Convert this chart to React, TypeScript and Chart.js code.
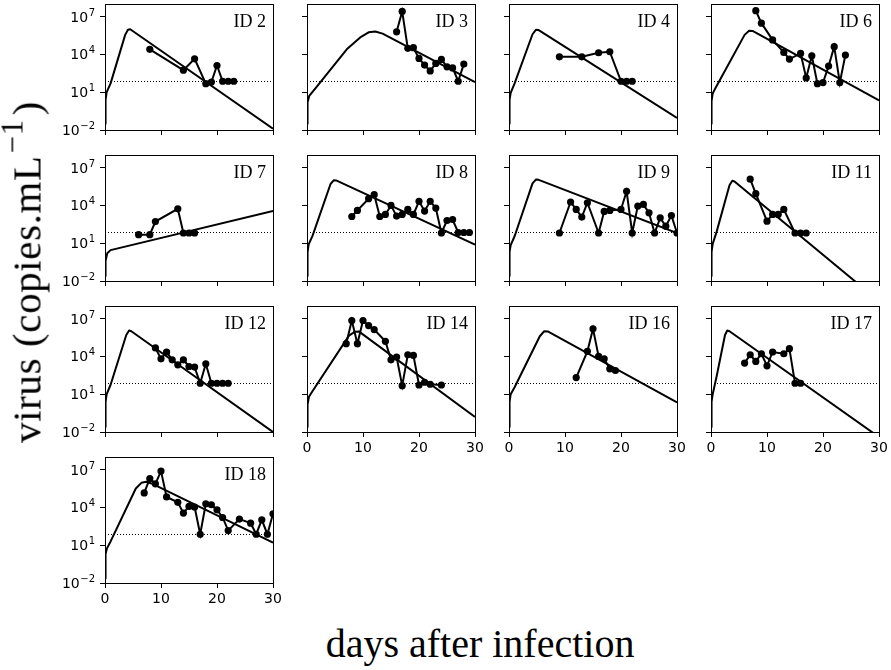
import React, { useEffect, useRef } from 'react';
import { Chart, registerables } from 'chart.js';

Chart.register(...registerables);

// ---- axis settings ----
const X_TICKS = [0, 10, 20, 30];
const Y_TICK_EXPONENTS = [-2, 1, 4, 7];
const Y_MIN_EXP = -2;
const Y_MAX_EXP = 8;
const LOD_LOG10 = 1.85; // dotted detection-limit line (log10 copies/mL)

// ---- observed data (days, log10 copies/mL) and model curves ----
const id2Days = [8, 14, 16, 18, 19, 20, 21, 22, 23];
const id2Log = [4.4, 2.75, 3.65, 1.68, 1.81, 3.12, 1.87, 1.87, 1.87];
const id2ModelDays = [0, 0.1, 0.3, 1, 3.6, 4.1, 4.5, 30];
const id2ModelLog = [-1.5, 0.4, 1.0, 1.7, 5.55, 5.95, 6.0, -1.9];

const id3Days = [16, 17, 18, 19, 20, 21, 22, 23, 24, 25, 26, 27, 28];
const id3Log = [5.79, 7.41, 4.48, 4.53, 3.68, 3.15, 2.69, 3.28, 3.6, 3.01, 2.93, 1.87, 3.23];
const id3ModelDays = [0, 0.1, 0.4, 1.5, 7.1, 9.5, 11, 12.2, 13.5, 30];
const id3ModelLog = [-1.5, 0.2, 0.7, 1.3, 4.4, 5.35, 5.75, 5.82, 5.65, 1.8];

const id4Days = [9, 13, 16, 18, 20, 21, 22];
const id4Log = [3.81, 3.81, 4.13, 4.21, 1.87, 1.87, 1.87];
const id4ModelDays = [0, 0.1, 0.3, 1, 4.2, 4.8, 5.3, 30];
const id4ModelLog = [-1.5, 0.4, 0.95, 1.7, 5.6, 5.95, 5.93, -1.05];

const id6Days = [8, 9, 11, 13, 14, 16, 17, 18, 19, 20, 21, 22, 23, 24];
const id6Log = [7.47, 6.48, 5.15, 4.16, 3.63, 4.08, 2.13, 3.89, 1.68, 1.76, 3.07, 4.61, 1.76, 3.95];
const id6ModelDays = [0, 0.1, 0.3, 1, 6, 6.8, 7.5, 30];
const id6ModelLog = [-1.5, 0.3, 0.9, 1.5, 5.55, 5.88, 5.85, 0.35];

const id7Days = [6, 8, 9, 13, 14, 15, 16];
const id7Log = [1.68, 1.68, 2.72, 3.73, 1.81, 1.81, 1.81];
const id7ModelDays = [0, 0.1, 0.4, 1, 30];
const id7ModelLog = [-1.6, -0.4, 0.2, 0.45, 3.55];

const id8Days = [8, 9, 11, 12, 13, 14, 15, 16, 17, 18, 19, 20, 21, 22, 23, 24, 25, 26, 27, 28, 29];
const id8Log = [3.12, 3.6, 4.53, 4.85, 3.12, 3.28, 4.0, 3.15, 3.28, 3.68, 3.28, 4.32, 3.55, 4.32, 3.79, 1.81, 2.8, 2.88, 1.85, 1.85, 1.85];
const id8ModelDays = [0, 0.1, 0.3, 1, 4.2, 4.8, 5.2, 30];
const id8ModelLog = [-1.6, 0.3, 0.9, 1.6, 5.7, 6.0, 5.98, 0.88];

const id9Days = [9, 11, 12, 13, 14, 16, 17, 18, 20, 21, 22, 23, 24, 25, 26, 27, 28, 29, 30];
const id9Log = [1.81, 4.27, 3.68, 3.07, 4.21, 1.81, 3.52, 3.6, 3.68, 5.12, 1.81, 3.95, 4.08, 3.41, 1.81, 3.01, 2.35, 3.2, 1.81];
const id9ModelDays = [0, 0.1, 0.3, 1, 4.2, 4.8, 5.3, 30];
const id9ModelLog = [-1.6, 0.3, 0.85, 1.55, 5.75, 6.05, 6.03, 1.8];

const id11Days = [7, 8, 10, 11, 12, 13, 15, 16, 17];
const id11Log = [6.08, 4.93, 2.75, 3.28, 3.28, 3.68, 1.81, 1.81, 1.81];
const id11ModelDays = [0, 0.1, 0.3, 1, 3.3, 3.8, 4.2, 30];
const id11ModelLog = [-1.6, 0.3, 0.95, 1.9, 5.6, 5.95, 5.9, -3.6];

const id12Days = [9, 10, 11, 12, 13, 14, 15, 16, 17, 18, 19, 20, 21, 22];
const id12Log = [4.67, 3.81, 4.35, 3.73, 3.33, 3.73, 3.2, 3.15, 1.87, 3.41, 1.87, 1.87, 1.87, 1.87];
const id12ModelDays = [0, 0.1, 0.3, 1, 3.8, 4.3, 4.7, 30];
const id12ModelLog = [-1.6, 0.4, 1.0, 1.75, 5.7, 6.05, 6.0, -2];

const id14Days = [7, 8, 9, 10, 11, 12, 14, 15, 16, 17, 18, 19, 20, 21, 22, 24];
const id14Log = [5.01, 6.85, 5.01, 6.85, 6.45, 6.13, 5.2, 3.73, 3.95, 1.68, 4.13, 4.08, 1.73, 1.95, 1.79, 1.73];
const id14ModelDays = [0, 0.1, 0.35, 1, 7.5, 8.5, 9.3, 30];
const id14ModelLog = [-1.6, 0.2, 0.8, 1.25, 5.65, 5.95, 5.97, -0.8];

const id16Days = [12, 14, 15, 16, 17, 18, 19];
const id16Log = [2.32, 4.4, 6.19, 4.0, 3.81, 3.01, 2.88];
const id16ModelDays = [0, 0.1, 0.3, 1, 5.5, 6.3, 7, 30];
const id16ModelLog = [-1.6, 0.4, 1.0, 1.55, 5.6, 6.0, 5.97, 0.35];

const id17Days = [6, 7, 8, 9, 10, 11, 13, 14, 15, 16];
const id17Log = [3.47, 4.13, 3.6, 4.21, 3.25, 4.35, 4.21, 4.61, 1.87, 1.87];
const id17ModelDays = [0, 0.1, 0.3, 1, 2.5, 2.9, 3.3, 30];
const id17ModelLog = [-1.6, 0.4, 1.0, 2.4, 5.7, 6.05, 6.0, -2.4];

const id18Days = [7, 8, 9, 10, 11, 13, 14, 15, 16, 17, 18, 19, 20, 21, 22, 24, 26, 27, 28, 29, 30];
const id18Log = [5.15, 6.29, 5.87, 6.88, 4.83, 4.4, 3.55, 4.08, 4.03, 1.87, 4.29, 4.21, 3.81, 3.2, 2.16, 3.07, 2.75, 1.87, 3.01, 1.87, 3.49];
const id18ModelDays = [0, 0.1, 0.35, 1, 5.5, 6.5, 7.4, 8.3, 30];
const id18ModelLog = [-1.65, 0.3, 0.75, 1.3, 5.5, 5.95, 6.03, 5.9, 1.2];

const panelLabels = ['ID 2', 'ID 3', 'ID 4', 'ID 6', 'ID 7', 'ID 8', 'ID 9', 'ID 11', 'ID 12', 'ID 14', 'ID 16', 'ID 17', 'ID 18'];
const panelDays = [id2Days, id3Days, id4Days, id6Days, id7Days, id8Days, id9Days, id11Days, id12Days, id14Days, id16Days, id17Days, id18Days];
const panelLogs = [id2Log, id3Log, id4Log, id6Log, id7Log, id8Log, id9Log, id11Log, id12Log, id14Log, id16Log, id17Log, id18Log];
const panelModelDays = [id2ModelDays, id3ModelDays, id4ModelDays, id6ModelDays, id7ModelDays, id8ModelDays, id9ModelDays, id11ModelDays, id12ModelDays, id14ModelDays, id16ModelDays, id17ModelDays, id18ModelDays];
const panelModelLogs = [id2ModelLog, id3ModelLog, id4ModelLog, id6ModelLog, id7ModelLog, id8ModelLog, id9ModelLog, id11ModelLog, id12ModelLog, id14ModelLog, id16ModelLog, id17ModelLog, id18ModelLog];

// ---- layout ----
const GRID_LEFT = 105;
const GRID_TOP = 4;
const COL_STEP = 202;
const ROW_STEP = 151;
const FRAME_W = 168;
const FRAME_H = 126;
const AX_W = 60;
const AX_H = 30;
const PAD_T = 4;
const PAD_R = 16;

const alignPx = (v: number) => Math.round(v - 0.5) + 0.5;

function makeFramePlugin(title: string, showY: boolean) {
  return {
    id: 'frameAndTitle',
    afterDraw(chart: any) {
      const { ctx, chartArea } = chart;
      const l = alignPx(chartArea.left);
      const t = alignPx(chartArea.top);
      const r = alignPx(chartArea.right);
      const b = alignPx(chartArea.bottom);
      ctx.save();
      ctx.strokeStyle = '#000';
      ctx.lineWidth = 1;
      ctx.strokeRect(l, t, r - l, b - t);
      ctx.fillStyle = '#000';
      ctx.font = '18px "Liberation Serif"';
      ctx.textAlign = 'right';
      ctx.textBaseline = 'alphabetic';
      ctx.fillText(title, chartArea.right - 7, chartArea.top + 23);

      if (showY) {
        // power-of-ten tick labels with raised exponents (10^n)
        const yScale = chart.scales.y;
        const rightEdge = chartArea.left - 10;
        for (const e of Y_TICK_EXPONENTS) {
          const py = yScale.getPixelForValue(Math.pow(10, e));
          const expText = e < 0 ? '\u2212' + String(-e) : String(e);
          ctx.font = '10px "DejaVu Sans"';
          const expW = ctx.measureText(expText).width;
          ctx.textAlign = 'right';
          ctx.fillText(expText, rightEdge, py - 1);
          ctx.font = '14px "DejaVu Sans"';
          ctx.fillText('10', rightEdge - expW - 0.5, py + 5);
        }
      }
      ctx.restore();
    },
  };
}

function Panel({ index }: { index: number }) {
  const ref = useRef<HTMLCanvasElement>(null);
  const row = Math.floor(index / 4);
  const col = index % 4;
  const showY = col === 0;
  const showX = index >= 9;
  const cw = AX_W + FRAME_W + PAD_R;
  const ch = PAD_T + FRAME_H + AX_H;

  useEffect(() => {
    if (!ref.current) return;
    const days = panelDays[index];
    const logs = panelLogs[index];
    const mDays = panelModelDays[index];
    const mLogs = panelModelLogs[index];
    const chart = new Chart(ref.current, {
      type: 'line',
      data: {
        datasets: [
          {
            data: days.map((d, i) => ({ x: d, y: Math.pow(10, logs[i]) })),
            borderColor: '#000',
            backgroundColor: '#000',
            borderWidth: 2,
            pointRadius: 3.6,
            pointBorderWidth: 0,
            pointBackgroundColor: '#000',
            tension: 0,
            fill: false,
          },
          {
            data: mDays.map((d, i) => ({ x: d, y: Math.pow(10, mLogs[i]) })),
            borderColor: '#000',
            borderWidth: 2,
            pointRadius: 0,
            tension: 0,
            fill: false,
            borderJoinStyle: 'round',
          },
          {
            data: [
              { x: X_TICKS[0], y: Math.pow(10, LOD_LOG10) },
              { x: X_TICKS[X_TICKS.length - 1], y: Math.pow(10, LOD_LOG10) },
            ],
            borderColor: '#000',
            borderWidth: 1,
            borderDash: [1, 2],
            pointRadius: 0,
            fill: false,
          },
        ],
      },
      options: {
        responsive: false,
        animation: false,
        events: [],
        layout: { padding: { left: 0, top: PAD_T, right: PAD_R, bottom: 0 } },
        plugins: { legend: { display: false }, tooltip: { enabled: false }, title: { display: false } },
        scales: {
          x: {
            type: 'linear',
            min: X_TICKS[0],
            max: X_TICKS[X_TICKS.length - 1],
            afterBuildTicks: (s: any) => {
              s.ticks = X_TICKS.map((v) => ({ value: v }));
            },
            afterFit: (s: any) => {
              s.height = AX_H;
            },
            grid: { drawOnChartArea: false, drawTicks: true, tickLength: 5, color: '#000', lineWidth: 1 },
            border: { display: false },
            ticks: {
              display: showX,
              color: '#000',
              font: { family: 'DejaVu Sans', size: 14 },
              padding: 3,
              maxRotation: 0,
              autoSkip: false,
              callback: (v: any) => String(v),
            },
          },
          y: {
            type: 'logarithmic',
            min: Math.pow(10, Y_MIN_EXP),
            max: Math.pow(10, Y_MAX_EXP),
            bounds: 'data',
            afterBuildTicks: (s: any) => {
              s.ticks = Y_TICK_EXPONENTS.map((e) => ({ value: Math.pow(10, e) }));
            },
            afterFit: (s: any) => {
              s.width = AX_W;
            },
            grid: { drawOnChartArea: false, drawTicks: true, tickLength: 5, color: '#000', lineWidth: 1 },
            border: { display: false },
            ticks: {
              display: false,
              autoSkip: false,
            },
          },
        },
      } as any,
      plugins: [makeFramePlugin(panelLabels[index], showY)],
    });
    return () => chart.destroy();
  }, [index]);

  return (
    <canvas
      ref={ref}
      width={cw}
      height={ch}
      style={{
        position: 'absolute',
        left: GRID_LEFT + col * COL_STEP - AX_W,
        top: GRID_TOP + row * ROW_STEP - PAD_T,
        width: cw,
        height: ch,
      }}
    />
  );
}

export default function App() {
  return (
    <div style={{ position: 'fixed', left: 0, top: 0, width: 891, height: 670, background: '#fff', overflow: 'hidden' }}>
      {panelLabels.map((_, i) => (
        <Panel key={i} index={i} />
      ))}
      <div
        style={{
          position: 'absolute',
          left: 280,
          top: 624,
          width: 400,
          textAlign: 'center',
          fontFamily: '"Liberation Serif"',
          fontSize: 40,
          lineHeight: '40px',
          whiteSpace: 'nowrap',
          color: '#000',
        }}
      >
        days after infection
      </div>
      <div
        style={{
          position: 'absolute',
          left: 28.5,
          top: 272,
          transform: 'translate(-50%, -50%) rotate(-90deg)',
          fontFamily: '"Liberation Serif"',
          fontSize: 41,
          letterSpacing: '0.6px',
          lineHeight: '41px',
          whiteSpace: 'nowrap',
          color: '#000',
        }}
      >
        virus (copies.mL
        <span style={{ fontSize: '0.75em', position: 'relative', top: '-0.6em', marginLeft: 2, marginRight: 4 }}>
          {'\u2212'}1
        </span>
        )
      </div>
    </div>
  );
}
